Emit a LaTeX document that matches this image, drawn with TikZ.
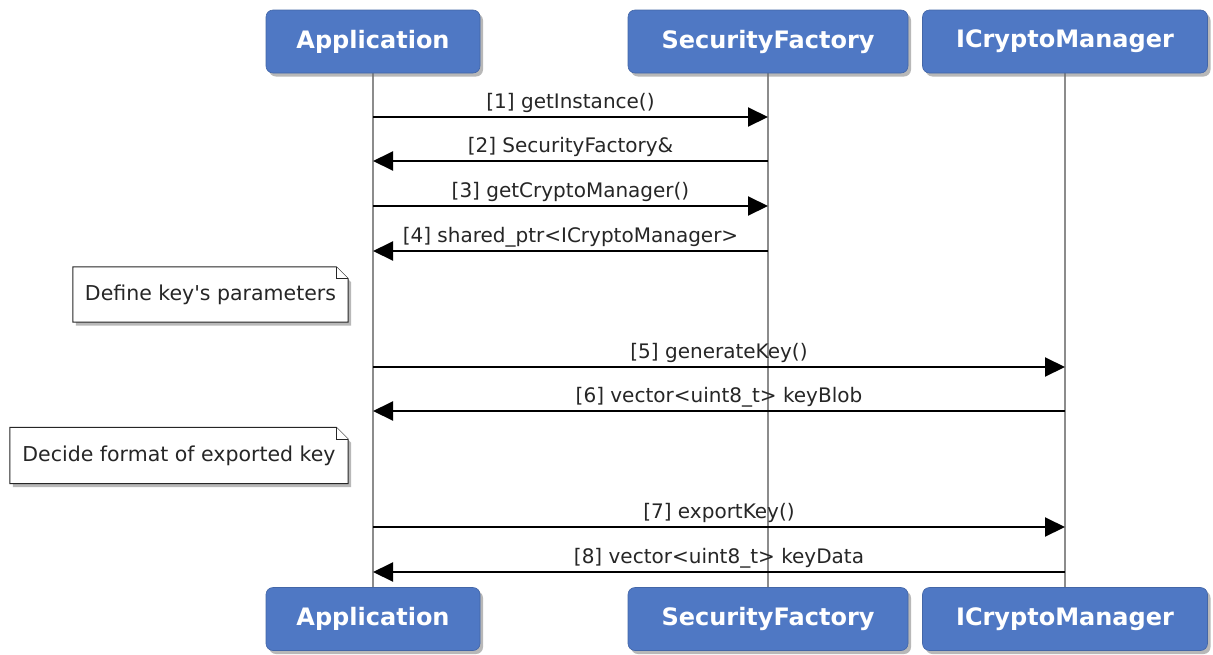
\documentclass[tikz,border=0pt]{standalone}
\usepackage{fontspec}
\setmainfont{DejaVu Sans}
\usetikzlibrary{arrows.meta,shadows,backgrounds}
\definecolor{boxblue}{RGB}{79,120,196}
\definecolor{lifegray}{RGB}{140,140,140}
\begin{document}
\begin{tikzpicture}[x=1pt,y=-1pt,
 actor/.style={rectangle, rounded corners=7pt, fill=boxblue, draw=boxblue!85!black, line width=0.6pt,
   text=white, font=\fontsize{24}{28}\selectfont\bfseries, minimum height=63pt,
   drop shadow={shadow xshift=3pt, shadow yshift=-3.5pt, fill=black!55}},
 life/.style={draw=lifegray, line width=2.2pt},
 msg/.style={draw=black, line width=2pt, -{Triangle[length=20pt,width=19pt]}},
 lbl/.style={font=\fontsize{20}{24}\selectfont, text=black!85, anchor=south, inner sep=2pt},
 notetext/.style={font=\fontsize{20.5}{24}\selectfont, inner sep=0pt, text=black!85},
 notefrm/.style={draw=black!85, fill=white, line width=1pt,
   drop shadow={shadow xshift=3pt, shadow yshift=-3.5pt, fill=black!55, draw=none}}]
\begin{scope}[on background layer]
\fill[white] (0,0) rectangle (1213,654);
\end{scope}
\useasboundingbox (0,0) rectangle (1213,654);

% actors
\node[actor, minimum width=214pt] (appT) at (373,41.5) {Application};
\node[actor, minimum width=280pt] (sfT) at (768,41.5) {SecurityFactory};
\node[actor, minimum width=285pt] (icmT) at (1065,41.5) {ICryptoManager};
\node[actor, minimum width=214pt] (appB) at (373,619) {Application};
\node[actor, minimum width=280pt] (sfB) at (768,619) {SecurityFactory};
\node[actor, minimum width=285pt] (icmB) at (1065,619) {ICryptoManager};

% lifelines
\begin{scope}[on background layer]
\draw[life] (appT.south) -- (appB.north);
\draw[life] (sfT.south) -- (sfB.north);
\draw[life] (icmT.south) -- (icmB.north);
\end{scope}

% message rows
\coordinate (y1) at (0,117);
\coordinate (y2) at (0,161);
\coordinate (y3) at (0,206);
\coordinate (y4) at (0,251);
\coordinate (y5) at (0,367);
\coordinate (y6) at (0,411);
\coordinate (y7) at (0,527);
\coordinate (y8) at (0,572);

\draw[msg] (appT |- y1) -- node[lbl, above=1pt] {[1] getInstance()} (sfT |- y1);
\draw[msg] (sfT |- y2) -- node[lbl, above=1pt] {[2] SecurityFactory\&} (appT |- y2);
\draw[msg] (appT |- y3) -- node[lbl, above=1pt] {[3] getCryptoManager()} (sfT |- y3);
\draw[msg] (sfT |- y4) -- node[lbl, above=1pt] {[4] shared\_ptr<ICryptoManager>} (appT |- y4);
\draw[msg] (appT |- y5) -- node[lbl, above=1pt] {[5] generateKey()} (icmT |- y5);
\draw[msg] (icmT |- y6) -- node[lbl, above=1pt] {[6] vector<uint8\_t> keyBlob} (appT |- y6);
\draw[msg] (appT |- y7) -- node[lbl, above=1pt] {[7] exportKey()} (icmT |- y7);
\draw[msg] (icmT |- y8) -- node[lbl, above=1pt] {[8] vector<uint8\_t> keyData} (appT |- y8);

% notes
\node[notetext, minimum width=275pt, minimum height=55pt] (n1) at (210.5,294.5) {Define key\textquotesingle s parameters};
\node[notetext, minimum width=338pt, minimum height=56pt] (n2) at (179,455.5) {Decide format of exported key};
\begin{scope}[on background layer]
\foreach \n in {n1,n2}{
\draw[notefrm] (\n.north west) -- ([xshift=-12pt]\n.north east) -- ([yshift=-12pt]\n.north east)
  -- (\n.south east) -- (\n.south west) -- cycle;
\draw[draw=black!85, fill=white, line width=1pt] ([xshift=-12pt]\n.north east) -- ([xshift=-12pt,yshift=-12pt]\n.north east) -- ([yshift=-12pt]\n.north east);
}
\end{scope}
\end{tikzpicture}
\end{document}
